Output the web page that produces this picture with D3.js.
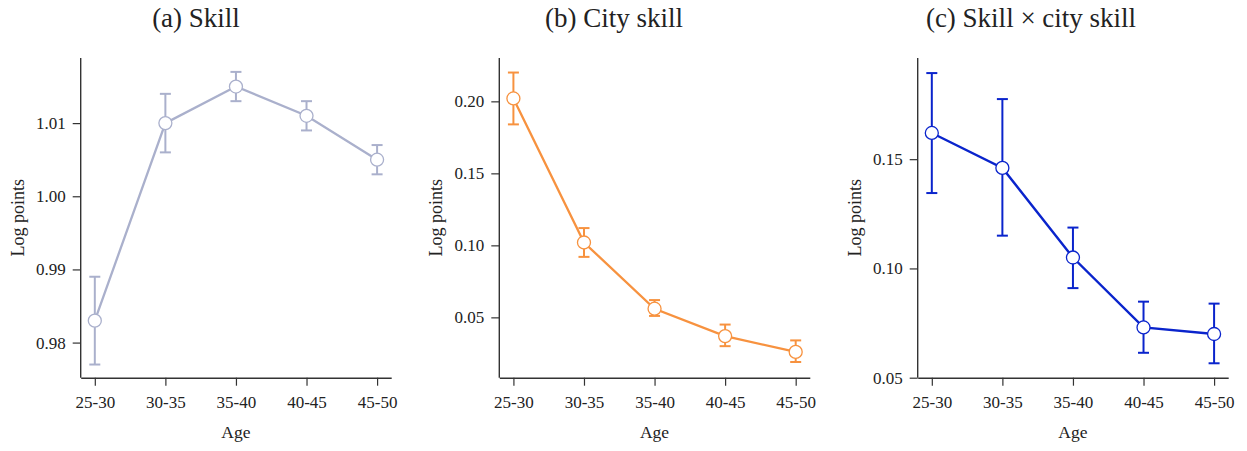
<!DOCTYPE html>
<html><head><meta charset="utf-8">
<script src="https://cdn.jsdelivr.net/npm/d3@7/dist/d3.min.js"></script>
<style>
body{margin:0;background:#fff;}
</style></head>
<body><svg id="c" width="1247" height="451"></svg>
<script>
const categories = ["25-30","30-35","35-40","40-45","45-50"];
const titles = ["(a) Skill","(b) City skill","(c) Skill \u00d7 city skill"];
const skillVals = [0.983, 1.010, 1.015, 1.011, 1.005];
const skillLo   = [0.977, 1.006, 1.013, 1.009, 1.003];
const skillHi   = [0.989, 1.014, 1.017, 1.013, 1.007];
const citySkillVals = [0.202, 0.102, 0.056, 0.037, 0.026];
const citySkillLo   = [0.184, 0.092, 0.051, 0.030, 0.019];
const citySkillHi   = [0.220, 0.112, 0.062, 0.045, 0.034];
const interVals = [0.162, 0.146, 0.105, 0.073, 0.070];
const interLo   = [0.1345, 0.115, 0.091, 0.0614, 0.0566];
const interHi   = [0.1894, 0.1775, 0.1187, 0.0848, 0.0839];
const skillTicks = [0.98, 0.99, 1.00, 1.01];
const citySkillTicks = [0.05, 0.10, 0.15, 0.20];
const interTicks = [0.05, 0.10, 0.15];

const FONT = "Liberation Serif";
const panels = [
  {title:titles[0], vals:skillVals, lo:skillLo, hi:skillHi, ticks:skillTicks, domain:[0.9752,1.0189], color:"#aab0cc", lw:2.3, left:80.7, tcx:196},
  {title:titles[1], vals:citySkillVals, lo:citySkillLo, hi:citySkillHi, ticks:citySkillTicks, domain:[0.0081,0.2301], color:"#f7923f", lw:2.3, left:499.3, tcx:614},
  {title:titles[2], vals:interVals, lo:interLo, hi:interHi, ticks:interTicks, domain:[0.05,0.1963], color:"#0a24cc", lw:2.4, left:917.7, tcx:1031}
];
const W = 310.5, plotTop = 58, plotBottom = 377.7;
const svg = d3.select("#c");

panels.forEach(p => {
  const x = d3.scalePoint().domain(categories).range([p.left, p.left+W]).padding(0.2);
  const y = d3.scaleLinear().domain(p.domain).range([plotBottom, plotTop]);
  const g = svg.append("g");

  const xa = g.append("g").attr("transform",`translate(0,${plotBottom})`)
    .call(d3.axisBottom(x).tickSize(8).tickSizeOuter(0).tickPadding(10));
  const ya = g.append("g").attr("transform",`translate(${p.left},0)`)
    .call(d3.axisLeft(y).tickValues(p.ticks).tickFormat(d3.format(".2f")).tickSize(8).tickSizeOuter(0).tickPadding(7));
  [xa, ya].forEach(a => {
    a.attr("font-family", FONT).attr("font-size", 17);
    a.select(".domain").attr("stroke","#333").attr("stroke-width",1.4);
    a.selectAll(".tick line").attr("stroke","#333").attr("stroke-width",1.2);
    a.selectAll(".tick text").attr("fill","#222");
  });
  ya.select(".domain").attr("d",`M0,${plotBottom}V${plotTop}`);

  g.append("text").attr("x", p.left+W/2).attr("y", 438).attr("text-anchor","middle")
    .attr("font-family", FONT).attr("fill","#222").attr("font-size",17.5).text("Age");
  g.append("text").attr("transform",`translate(${p.left-57},${(plotTop+plotBottom)/2}) rotate(-90)`)
    .attr("font-family", FONT).attr("fill","#222")
    .attr("text-anchor","middle").attr("font-size",18).text("Log points");
  g.append("text").attr("x", p.tcx).attr("y", 27).attr("text-anchor","middle")
    .attr("font-family", FONT).attr("fill","#222").attr("font-size",27).text(p.title);

  const eg = g.append("g").attr("stroke",p.color).attr("stroke-width",2).attr("fill","none");
  categories.forEach((c,i) => {
    const cx = x(c);
    eg.append("line").attr("x1",cx).attr("x2",cx).attr("y1",y(p.lo[i])).attr("y2",y(p.hi[i]));
    eg.append("line").attr("x1",cx-5.5).attr("x2",cx+5.5).attr("y1",y(p.lo[i])).attr("y2",y(p.lo[i]));
    eg.append("line").attr("x1",cx-5.5).attr("x2",cx+5.5).attr("y1",y(p.hi[i])).attr("y2",y(p.hi[i]));
  });
  g.append("path").datum(p.vals)
    .attr("d", d3.line().x((d,i)=>x(categories[i])).y(d=>y(d)))
    .attr("fill","none").attr("stroke",p.color).attr("stroke-width",p.lw);
  g.selectAll("circle.m").data(p.vals).join("circle")
    .attr("cx",(d,i)=>x(categories[i])).attr("cy",d=>y(d)).attr("r",6.5)
    .attr("fill","#fff").attr("stroke",p.color).attr("stroke-width",1.3);
});
</script></body></html>
